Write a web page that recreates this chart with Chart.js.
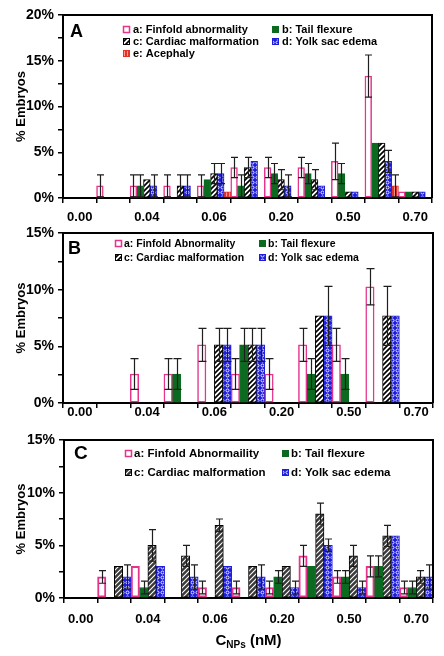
<!DOCTYPE html>
<html><head><meta charset="utf-8">
<script src="https://cdn.jsdelivr.net/npm/chart.js@4.4.1/dist/chart.umd.min.js"></script>
<style>
html,body{margin:0;padding:0;background:#fff;}
body{width:444px;height:656px;position:relative;overflow:hidden;}
canvas{position:absolute;left:0;}
</style></head><body>
<canvas id="cA" width="444" height="228" style="top:0px"></canvas>
<canvas id="cB" width="444" height="210" style="top:218px"></canvas>
<canvas id="cC" width="444" height="231" style="top:425px"></canvas>
<script>
// ---------- DATA ----------
const categories = ['0.00','','0.04','','0.06','','0.20','','0.50','','0.70'];
const seriesNamesA = ['a: Finfold abnormality','b: Tail flexure','c: Cardiac malformation','d: Yolk sac edema','e: Acephaly'];
const seriesNamesB = ['a: Finfold Abnormality','b: Tail flexure','c: Cardiac malformation','d: Yolk sac edema'];
const seriesNamesC = ['a: Finfold Abnormaility','b: Tail flexure','c: Cardiac malformation','d: Yolk sac edema'];
const yMaxA = 20, yMaxB = 15, yMaxC = 15;
const yStep = 2.5;

// Panel A
const finfoldA    = [0,1.33,1.33,1.33,1.33,3.33,3.33,3.33,4.0,13.33,0.67];
const finfoldErrA = [0,1.2,1.2,1.2,1.2,1.1,1.1,1.1,2.0,2.3,0];
const tailA       = [0,0,1.33,0,2.0,1.33,2.67,2.67,2.67,6.0,0.67];
const tailErrA    = [0,0,1.2,0,0,1.2,1.1,1.1,1.1,0,0];
const cardiacA    = [0,0,2.0,1.33,2.67,3.33,2.0,2.0,0.67,6.0,0.67];
const cardiacErrA = [0,0,0,1.2,1.1,1.1,1.1,1.1,0,0,0];
const yolkA       = [0,0,1.33,1.33,2.67,4.0,1.33,1.33,0.67,4.0,0.67];
const yolkErrA    = [0,0,1.2,1.2,1.1,0,1.2,0,0,1.2,0];
const acephalyA   = [0,0,0,0,0.67,0,0,0,0,1.33,0];
const acephalyErrA= [0,0,0,0,0,0,0,0,0,1.2,0];

// Panel B
const finfoldB    = [0,0,2.56,2.56,5.13,2.56,2.56,5.13,5.13,10.26,0];
const finfoldErrB = [0,0,1.35,1.35,1.45,1.35,1.35,1.45,1.45,1.6,0];
const tailB       = [0,0,0,2.56,0,5.13,0,2.56,2.56,0,0];
const tailErrB    = [0,0,0,1.35,0,1.45,0,1.35,1.35,0,0];
const cardiacB    = [0,0,0,0,5.13,5.13,0,7.69,0,7.69,0];
const cardiacErrB = [0,0,0,0,1.45,1.45,0,0,0,2.6,0];
const yolkB       = [0,0,0,0,5.13,5.13,0,7.69,0,7.69,0];
const yolkErrB    = [0,0,0,0,1.45,1.45,0,2.6,0,0,0];

// Panel C
const finfoldC    = [0,2,3,0,1,1,1,4,2,3,1];
const finfoldErrC = [0,0.6,0,0,0.6,0.6,0.6,1.0,0.6,1.0,0.6];
const tailC       = [0,0,1,0,0,0,2,3,2,3,1];
const tailErrC    = [0,0,0.6,0,0,0,0.6,0,0.6,1.0,0.6];
const cardiacC    = [0,3,5,4,6.9,3,3,8,4,5.9,2];
const cardiacErrC = [0,0,1.5,1.0,0.6,0,0,1.0,1.0,1.0,0.6];
const yolkC       = [0,2,3,2,3,2,1,5,1,5.9,2];
const yolkErrC    = [0,1.15,0,1.15,0,1.15,0.6,0.6,0.6,0,1.15];

// ---------- STYLE ----------
const FONT = '"Liberation Sans", Arial, Helvetica, sans-serif';
const PINK = '#e6338b', GREEN = '#0b6a20', BLUE = '#1c1cdc', RED = '#e2322a';

function mk(w, h, draw) {
  const c = document.createElement('canvas'); c.width = w; c.height = h;
  const g = c.getContext('2d'); draw(g, w, h);
  return g.createPattern(c, 'repeat');
}
function hatch(bg, fg, lw) {
  return mk(5, 5, (g, s) => {
    g.fillStyle = bg; g.fillRect(0, 0, s, s);
    g.strokeStyle = fg; g.lineWidth = lw; g.lineCap = 'square';
    g.beginPath();
    g.moveTo(0, s); g.lineTo(s, 0);
    g.moveTo(-2, 2); g.lineTo(2, -2);
    g.moveTo(s - 2, s + 2); g.lineTo(s + 2, s - 2);
    g.stroke();
  });
}
const dots = mk(5, 5, (g) => {
  g.fillStyle = BLUE; g.fillRect(0, 0, 5, 5);
  g.strokeStyle = '#ffffff'; g.lineWidth = 0.9;
  g.beginPath(); g.arc(2.5, 2.5, 1.5, 0, Math.PI * 2); g.stroke();
});
const stripes = mk(3, 3, (g) => {
  g.fillStyle = RED; g.fillRect(0, 0, 3, 3);
  g.fillStyle = '#ff9c8a'; g.fillRect(1, 0, 1, 3);
});
const hatchAB = hatch('#ffffff', '#000000', 1.7);
const hatchC = hatch('#3a3a3a', '#ffffff', 1.1);

function ds(label, data, errors, bg, border, bw) {
  return { label, data, errors, backgroundColor: bg, borderColor: border, borderWidth: bw,
           borderSkipped: false, categoryPercentage: 1.0, barPercentage: 1.0 };
}

// ---------- PLUGINS ----------
const errorBars = {
  id: 'errorBars',
  afterDatasetsDraw(chart) {
    const ctx = chart.ctx, y = chart.scales.y;
    const cap = chart.options.plugins.deco.cap;
    chart.data.datasets.forEach((d, di) => {
      const meta = chart.getDatasetMeta(di);
      meta.data.forEach((bar, i) => {
        const e = d.errors[i], v = d.data[i];
        if (!e) return;
        const x = Math.round(bar.x) + 0.5;
        const yt = y.getPixelForValue(v + e);
        const yb = y.getPixelForValue(Math.max(0, v - e));
        ctx.save();
        ctx.strokeStyle = '#1e1e1e'; ctx.lineWidth = 1.2;
        ctx.beginPath();
        ctx.moveTo(x, yt); ctx.lineTo(x, yb);
        ctx.moveTo(x - cap, yt); ctx.lineTo(x + cap, yt);
        ctx.moveTo(x - cap, yb); ctx.lineTo(x + cap, yb);
        ctx.stroke();
        ctx.restore();
      });
    });
  }
};

const deco = {
  id: 'deco',
  afterDraw(chart, args, o) {
    const ctx = chart.ctx, a = chart.chartArea;
    ctx.save();
    // frame (top & right)
    ctx.strokeStyle = '#000'; ctx.lineWidth = 2;
    ctx.beginPath();
    ctx.moveTo(a.left, a.top); ctx.lineTo(a.right, a.top); ctx.lineTo(a.right, a.bottom);
    ctx.stroke();
    // panel letter
    ctx.fillStyle = '#000';
    ctx.font = 'bold ' + o.letterSize + 'px ' + FONT;
    ctx.textBaseline = 'middle'; ctx.textAlign = 'left';
    ctx.fillText(o.letter, o.letterX, o.letterY);
    // legend
    ctx.font = 'bold ' + o.legSize + 'px ' + FONT;
    const dsets = chart.data.datasets;
    dsets.forEach((d, i) => {
      const col = i % 2, row = Math.floor(i / 2);
      const bx = o.legX[col], by = o.legY[row];
      const bs = o.box;
      ctx.fillStyle = d.backgroundColor;
      ctx.fillRect(bx, by - bs / 2, bs, bs);
      ctx.strokeStyle = d.borderColor; ctx.lineWidth = Math.min(d.borderWidth, 1.5);
      ctx.strokeRect(bx + 0.5, by - bs / 2 + 0.5, bs - 1, bs - 1);
      ctx.fillStyle = '#000';
      ctx.fillText(d.label, bx + bs + o.legGap, by + 0.5);
    });
    // x title (panel C only)
    if (o.xTitle) {
      const cx = (a.left + a.right) / 2, ty = o.xTitleY;
      const big = 'bold 15px ' + FONT, small = 'bold 10px ' + FONT;
      ctx.textBaseline = 'alphabetic';
      ctx.font = big; const w1 = ctx.measureText('C').width; const w3 = ctx.measureText(' (nM)').width;
      ctx.font = small; const w2 = ctx.measureText('NPs').width;
      let x = cx - (w1 + w2 + w3) / 2;
      ctx.font = big; ctx.fillText('C', x, ty); x += w1;
      ctx.font = small; ctx.fillText('NPs', x, ty + 3); x += w2;
      ctx.font = big; ctx.fillText(' (nM)', x, ty);
    }
    ctx.restore();
  }
};

function build(id, datasets, cfg) {
  return new Chart(document.getElementById(id), {
    type: 'bar',
    data: { labels: categories, datasets },
    options: {
      responsive: false, animation: false, devicePixelRatio: 1,
      layout: { padding: { left: 0, right: cfg.padRight, top: cfg.padTop, bottom: 0 } },
      plugins: { legend: { display: false }, tooltip: { enabled: false }, deco: cfg.deco },
      scales: {
        x: {
          offset: true,
          grid: { offset: true, drawOnChartArea: false, drawTicks: true, tickLength: 5, color: '#000', lineWidth: 1.5 },
          border: { display: true, color: '#000', width: 2 },
          ticks: { autoSkip: false, maxRotation: 0, minRotation: 0, color: '#000', padding: cfg.xPad,
                   font: { family: FONT, size: 13, weight: 'bold' } },
          afterFit: s => { s.height = cfg.xAxisH; }
        },
        y: {
          min: 0, max: cfg.yMax,
          grid: { drawOnChartArea: false, drawTicks: true, tickLength: 5, color: '#000', lineWidth: 1.5 },
          border: { display: true, color: '#000', width: 2 },
          ticks: { stepSize: yStep, autoSkip: false, color: '#000', padding: 4,
                   font: { family: FONT, size: 14, weight: 'bold' },
                   callback: v => (Math.abs(v % 5) < 1e-9 ? v + '%' : '') },
          title: { display: true, text: '% Embryos', color: '#000', padding: { top: 14, bottom: 0 },
                   font: { family: FONT, size: 13, weight: 'bold' } },
          afterFit: s => { s.width = cfg.yAxisW; }
        }
      }
    },
    plugins: [errorBars, deco]
  });
}

build('cA', [
  ds(seriesNamesA[0], finfoldA, finfoldErrA, '#ffffff', PINK, 1.5),
  ds(seriesNamesA[1], tailA, tailErrA, GREEN, GREEN, 1),
  ds(seriesNamesA[2], cardiacA, cardiacErrA, hatchAB, '#000000', 1),
  ds(seriesNamesA[3], yolkA, yolkErrA, dots, BLUE, 1),
  ds(seriesNamesA[4], acephalyA, acephalyErrA, stripes, RED, 1)
], { yMax: yMaxA, padTop: 15, padRight: 12, xAxisH: 30, xPad: 7, yAxisW: 63,
     deco: { letter: 'A', letterSize: 18, letterX: 70, letterY: 32, legSize: 11, box: 7, legGap: 3,
             legX: [123, 272], legY: [29.5, 41.5, 53.5], cap: 3.5 } });

build('cB', [
  ds(seriesNamesB[0], finfoldB, finfoldErrB, '#ffffff', PINK, 1.5),
  ds(seriesNamesB[1], tailB, tailErrB, GREEN, GREEN, 1),
  ds(seriesNamesB[2], cardiacB, cardiacErrB, hatchAB, '#000000', 1),
  ds(seriesNamesB[3], yolkB, yolkErrB, dots, BLUE, 1)
], { yMax: yMaxB, padTop: 15, padRight: 11, xAxisH: 25, xPad: -3, yAxisW: 63,
     deco: { letter: 'B', letterSize: 18, letterX: 68, letterY: 31, legSize: 10.5, box: 7, legGap: 2,
             legX: [115, 259], legY: [25.5, 39.5], cap: 4 } });

build('cC', [
  ds(seriesNamesC[0], finfoldC, finfoldErrC, '#ffffff', PINK, 2),
  ds(seriesNamesC[1], tailC, tailErrC, GREEN, GREEN, 1),
  ds(seriesNamesC[2], cardiacC, cardiacErrC, hatchC, '#000000', 1),
  ds(seriesNamesC[3], yolkC, yolkErrC, dots, BLUE, 1)
], { yMax: yMaxC, padTop: 15, padRight: 11, xAxisH: 58, xPad: 9, yAxisW: 64,
     deco: { letter: 'C', letterSize: 19, letterX: 74, letterY: 29, legSize: 11.5, box: 7, legGap: 2,
             legX: [125, 282], legY: [28.5, 47.5], cap: 3.5, xTitle: true, xTitleY: 220 } });
</script>
</body></html>
